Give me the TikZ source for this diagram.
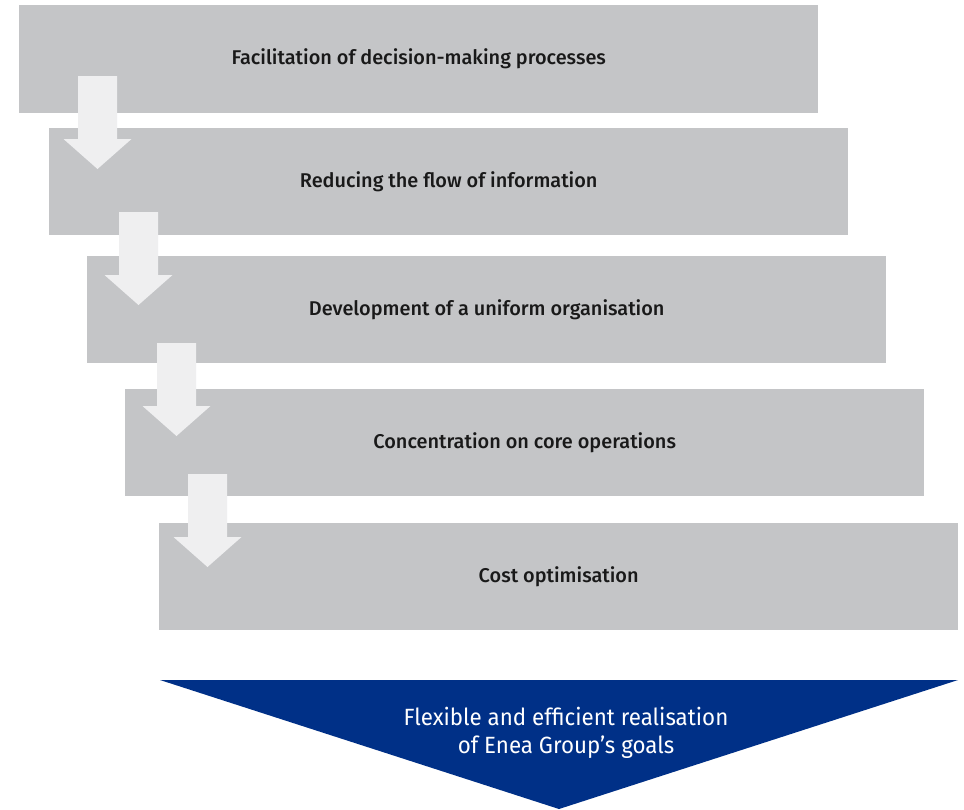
\documentclass[tikz,border=0pt]{standalone}
\usepackage{fontspec}
\setmainfont{Fira Sans}[UprightFont=* Medium]
\newfontfamily\goalfont{Fira Sans}[FakeStretch=0.95]
\begin{document}
\begin{tikzpicture}[x=1pt,y=-1pt,
  stagebox/.style={fill=stagegray, draw=none, anchor=north west, inner sep=0pt,
    minimum width=799pt, minimum height=107pt, font=\fontsize{19.9}{23}\selectfont, text=black!90},
  goaltext/.style={text=white, align=center, font=\goalfont\fontsize{23.5}{28}\selectfont},
  downarrow/.pic={
    \fill[arrowwhite] (-19.5,0) -- (19.5,0) -- (19.5,63) -- (34,63) -- (0,93)
      -- (-34,63) -- (-19.5,63) -- cycle;
  }]
\definecolor{stagegray}{HTML}{C4C5C7}
\definecolor{arrowwhite}{HTML}{EFEFF0}
\definecolor{goalblue}{HTML}{003087}
\useasboundingbox (0,0) rectangle (964,809);
\fill[white] (0,0) rectangle (964,809);

% stacked stages
\node[stagebox, minimum height=108pt] (s1) at (19,5) {Facilitation of decision-making processes};
\node[stagebox] (s2) at (49,128) {Reducing the flow of information};
\node[stagebox] (s3) at (87,256) {Development of a uniform organisation};
\node[stagebox] (s4) at (125,389) {Concentration on core operations};
\node[stagebox] (s5) at (159,523) {Cost optimisation};

% arrows linking the stages
\pic at (97.5,76) {downarrow};
\pic at (138.5,212) {downarrow};
\pic at (176.5,343) {downarrow};
\pic at (207.5,474) {downarrow};

% resulting goal
\fill[goalblue] (160,680) -- (958,680) -- (559,809) -- cycle;
\node[goaltext] (goal) at (566,733) {Flexible and efficient realisation\\of Enea Group’s goals};
\end{tikzpicture}
\end{document}
